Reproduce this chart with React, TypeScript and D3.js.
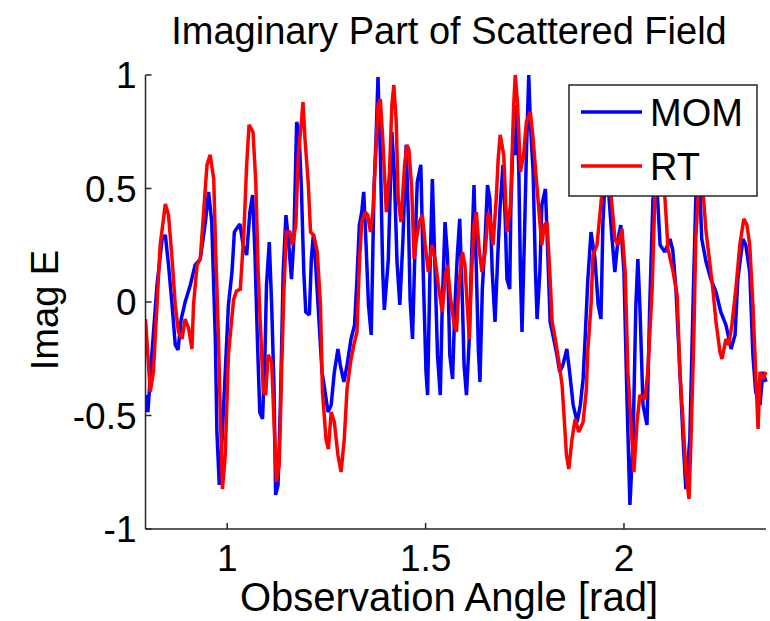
import React from "react";
import * as d3 from "d3";

const xTicks = [1, 1.5, 2];
const yTicks = [-1, -0.5, 0, 0.5, 1];
const xDomain = [0.794, 2.358];
const yDomain = [-1, 1];

const momData: [number, number][] = [
[0.794,-0.410],[0.800,-0.485],[0.809,-0.256],[0.823,0.075],[0.836,0.278],[0.844,0.295],[0.852,0.163],[0.861,-0.013],[0.869,-0.189],[0.876,-0.211],[0.884,-0.075],[0.894,0.0],[0.907,0.075],[0.919,0.163],[0.932,0.189],[0.945,0.352],[0.953,0.485],[0.961,0.352],[0.970,-0.163],[0.974,-0.573],[0.980,-0.806],[0.987,-0.604],[0.995,-0.308],[1.003,-0.013],[1.012,0.132],[1.018,0.308],[1.023,0.322],[1.032,0.344],[1.040,0.251],[1.049,0.207],[1.057,0.396],[1.064,0.471],[1.070,0.207],[1.076,-0.163],[1.082,-0.485],[1.089,-0.515],[1.095,-0.233],[1.099,0.075],[1.106,0.264],[1.112,-0.013],[1.118,-0.383],[1.122,-0.850],[1.128,-0.806],[1.134,-0.454],[1.141,0.132],[1.148,0.383],[1.154,0.278],[1.162,0.101],[1.168,0.278],[1.175,0.793],[1.181,0.749],[1.187,0.498],[1.193,0.132],[1.198,-0.044],[1.207,-0.057],[1.212,0.189],[1.217,0.295],[1.223,0.163],[1.234,-0.163],[1.239,-0.308],[1.244,-0.366],[1.254,-0.485],[1.262,-0.454],[1.270,-0.308],[1.279,-0.207],[1.285,-0.278],[1.294,-0.352],[1.302,-0.278],[1.312,-0.163],[1.321,-0.101],[1.327,0.101],[1.333,0.339],[1.339,0.396],[1.344,0.485],[1.350,0.251],[1.356,-0.013],[1.363,-0.145],[1.370,0.498],[1.375,0.718],[1.380,0.991],[1.386,0.648],[1.392,0.132],[1.396,-0.035],[1.406,0.185],[1.415,0.749],[1.421,0.573],[1.428,0.176],[1.435,-0.013],[1.443,0.278],[1.451,0.692],[1.457,0.352],[1.461,0.009],[1.467,-0.163],[1.474,0.278],[1.479,0.529],[1.488,0.604],[1.494,0.132],[1.501,-0.308],[1.505,-0.410],[1.511,0.132],[1.517,0.542],[1.524,0.132],[1.530,-0.233],[1.537,-0.410],[1.542,-0.013],[1.549,0.352],[1.555,0.207],[1.561,-0.233],[1.568,-0.339],[1.574,-0.013],[1.580,0.207],[1.586,0.366],[1.593,-0.013],[1.597,-0.278],[1.603,-0.410],[1.610,-0.163],[1.616,0.207],[1.622,0.515],[1.628,0.132],[1.633,-0.207],[1.637,-0.352],[1.643,0.057],[1.650,0.278],[1.656,0.515],[1.662,0.454],[1.668,0.132],[1.675,-0.088],[1.682,0.207],[1.688,0.427],[1.695,0.604],[1.701,0.352],[1.705,0.101],[1.712,0.057],[1.715,0.427],[1.720,0.692],[1.726,0.648],[1.730,0.868],[1.735,0.573],[1.739,0.132],[1.743,-0.132],[1.749,0.278],[1.754,0.648],[1.760,1.0],[1.764,0.793],[1.771,0.573],[1.777,0.132],[1.781,-0.075],[1.788,0.132],[1.793,0.427],[1.802,0.498],[1.808,0.207],[1.814,-0.088],[1.823,-0.163],[1.831,-0.233],[1.838,-0.308],[1.846,-0.278],[1.856,-0.207],[1.863,-0.308],[1.872,-0.454],[1.882,-0.529],[1.890,-0.454],[1.897,-0.339],[1.902,-0.163],[1.909,0.101],[1.917,0.308],[1.927,0.189],[1.935,-0.013],[1.942,-0.075],[1.947,0.352],[1.953,0.559],[1.960,0.515],[1.970,0.278],[1.977,0.132],[1.985,0.278],[1.992,0.339],[2.000,0.132],[2.008,-0.454],[2.015,-0.894],[2.023,-0.604],[2.030,-0.013],[2.035,0.189],[2.040,-0.013],[2.048,-0.454],[2.058,-0.542],[2.065,-0.013],[2.073,0.449],[2.081,0.581],[2.091,0.251],[2.103,0.220],[2.116,0.278],[2.123,0.229],[2.131,0.057],[2.141,-0.308],[2.149,-0.604],[2.156,-0.824],[2.166,-0.604],[2.174,-0.013],[2.181,0.454],[2.189,0.604],[2.196,0.278],[2.207,0.176],[2.219,0.101],[2.232,0.044],[2.244,-0.044],[2.257,-0.101],[2.270,-0.207],[2.280,-0.145],[2.287,0.101],[2.300,0.278],[2.307,0.251],[2.317,0.132],[2.325,-0.233],[2.332,-0.396],[2.343,-0.454],[2.350,-0.308],[2.358,-0.352]
];

const rtData: [number, number][] = [
[0.794,-0.075],[0.806,-0.396],[0.814,-0.308],[0.823,-0.013],[0.831,0.251],[0.844,0.432],[0.852,0.383],[0.861,0.189],[0.869,-0.013],[0.877,-0.132],[0.886,-0.163],[0.894,-0.075],[0.903,-0.119],[0.911,-0.207],[0.915,-0.013],[0.924,0.163],[0.932,0.189],[0.940,0.383],[0.949,0.604],[0.957,0.648],[0.966,0.542],[0.970,0.278],[0.978,-0.163],[0.982,-0.454],[0.988,-0.824],[0.995,-0.674],[1.003,-0.233],[1.016,0.009],[1.023,0.048],[1.033,0.057],[1.042,0.308],[1.049,0.604],[1.055,0.780],[1.065,0.749],[1.072,0.529],[1.078,0.132],[1.084,-0.119],[1.091,-0.396],[1.097,-0.410],[1.103,-0.233],[1.112,-0.264],[1.118,-0.529],[1.124,-0.793],[1.131,-0.718],[1.137,-0.308],[1.143,0.057],[1.149,0.308],[1.158,0.308],[1.164,0.251],[1.173,0.339],[1.179,0.648],[1.187,0.793],[1.191,0.881],[1.196,0.718],[1.204,0.529],[1.210,0.308],[1.218,0.295],[1.227,0.220],[1.235,-0.013],[1.240,-0.396],[1.249,-0.604],[1.255,-0.648],[1.262,-0.485],[1.270,-0.529],[1.279,-0.674],[1.287,-0.749],[1.295,-0.604],[1.302,-0.383],[1.311,-0.264],[1.319,-0.189],[1.327,-0.132],[1.333,0.163],[1.339,0.352],[1.348,0.396],[1.354,0.383],[1.361,0.308],[1.367,0.396],[1.373,0.604],[1.380,0.868],[1.386,0.894],[1.392,0.718],[1.401,0.396],[1.409,0.573],[1.415,0.868],[1.420,0.956],[1.426,0.793],[1.431,0.454],[1.438,0.352],[1.447,0.604],[1.453,0.692],[1.458,0.670],[1.465,0.498],[1.471,0.189],[1.477,0.278],[1.484,0.352],[1.492,0.383],[1.499,0.251],[1.507,0.132],[1.516,0.251],[1.524,0.189],[1.532,0.075],[1.542,-0.044],[1.549,0.101],[1.555,0.163],[1.563,0.013],[1.572,-0.101],[1.578,-0.132],[1.584,0.075],[1.593,0.220],[1.599,0.163],[1.605,-0.013],[1.610,-0.163],[1.616,0.132],[1.622,0.339],[1.628,0.396],[1.635,0.233],[1.642,0.132],[1.650,0.220],[1.658,0.396],[1.664,0.352],[1.670,0.251],[1.678,0.454],[1.683,0.630],[1.688,0.736],[1.697,0.648],[1.705,0.308],[1.714,0.427],[1.722,0.868],[1.726,1.0],[1.732,0.868],[1.739,0.573],[1.747,0.648],[1.754,0.793],[1.764,0.837],[1.771,0.718],[1.779,0.542],[1.788,0.352],[1.793,0.251],[1.799,0.339],[1.806,0.352],[1.813,0.132],[1.819,-0.088],[1.827,-0.163],[1.836,-0.264],[1.844,-0.366],[1.850,-0.529],[1.855,-0.674],[1.861,-0.736],[1.869,-0.604],[1.877,-0.515],[1.886,-0.573],[1.897,-0.529],[1.905,-0.388],[1.909,-0.211],[1.917,-0.013],[1.922,0.207],[1.932,0.251],[1.940,0.396],[1.947,0.537],[1.957,0.604],[1.965,0.515],[1.972,0.383],[1.977,0.278],[1.985,0.251],[1.995,0.322],[2.003,0.132],[2.010,-0.308],[2.020,-0.604],[2.025,-0.749],[2.033,-0.529],[2.040,-0.410],[2.053,-0.427],[2.060,-0.308],[2.071,0.057],[2.078,0.471],[2.088,0.670],[2.098,0.604],[2.106,0.383],[2.111,0.233],[2.123,0.141],[2.134,0.031],[2.141,-0.308],[2.149,-0.529],[2.156,-0.749],[2.164,-0.868],[2.169,-0.604],[2.176,-0.163],[2.181,0.278],[2.189,0.537],[2.199,0.493],[2.207,0.308],[2.217,0.163],[2.224,0.057],[2.232,-0.088],[2.242,-0.220],[2.247,-0.251],[2.257,-0.163],[2.264,-0.189],[2.272,-0.101],[2.282,0.057],[2.292,0.251],[2.302,0.366],[2.310,0.339],[2.317,0.251],[2.325,-0.013],[2.332,-0.308],[2.338,-0.559],[2.343,-0.308],[2.350,-0.339],[2.358,-0.308]
];

const seriesNames = ["MOM", "RT"];
const seriesColors = ["#0000ff", "#ff0000"];

const W = 770, H = 621;
const L = 145.5, R = 766, T = 75, B = 529;
const FONT = "'Liberation Sans', Arial, Helvetica, sans-serif";

export default function App() {
  const x = d3.scaleLinear().domain(xDomain).range([L, R]);
  const y = d3.scaleLinear().domain(yDomain).range([B, T]);
  const line = d3.line<[number, number]>().x(d => x(d[0])).y(d => y(d[1]));
  const series = [momData, rtData];
  const fmt = (v: number) => (v === 0 ? "0" : String(v));
  const cx = 449;

  return (
    <svg width={W} height={H} style={{ position: "absolute", left: 0, top: 0, background: "#fff" }}>
      <rect x={0} y={0} width={W} height={H} fill="#fff" />
      <defs>
        <clipPath id="plotclip">
          <rect x={L} y={T - 3} width={R - L + 2} height={B - T + 6} />
        </clipPath>
      </defs>
      <g clipPath="url(#plotclip)">
        {series.map((s, i) => (
          <path key={i} d={line(s) || ""} fill="none" stroke={seriesColors[i]} strokeWidth={3.5} strokeLinejoin="miter" strokeMiterlimit={2} />
        ))}
      </g>
      <line x1={L} y1={T} x2={L} y2={B} stroke="#262626" strokeWidth={1.5} />
      <line x1={L} y1={B} x2={R} y2={B} stroke="#262626" strokeWidth={1.5} />
      {yTicks.map(t => (
        <g key={"y" + t}>
          <line x1={L} x2={L + 6} y1={y(t)} y2={y(t)} stroke="#262626" strokeWidth={1.5} />
          <text x={L - 9} y={y(t)} dy="0.36em" textAnchor="end" fontFamily={FONT} fontSize={37} fill="#000">{fmt(t)}</text>
        </g>
      ))}
      {xTicks.map(t => (
        <g key={"x" + t}>
          <line x1={x(t)} x2={x(t)} y1={B} y2={B - 6} stroke="#262626" strokeWidth={1.5} />
          <text x={x(t)} y={571} textAnchor="middle" fontFamily={FONT} fontSize={37} fill="#000">{fmt(t)}</text>
        </g>
      ))}
      <text x={cx} y={611} textAnchor="middle" fontFamily={FONT} fontSize={40} fill="#000">Observation Angle [rad]</text>
      <text transform={`translate(58, 310) rotate(-90)`} textAnchor="middle" fontFamily={FONT} fontSize={38} fill="#000">Imag E</text>
      <text x={cx} y={44} textAnchor="middle" fontFamily={FONT} fontSize={38} fill="#000">Imaginary Part of Scattered Field</text>
      <rect x={569} y={85} width={188} height={111} fill="#fff" stroke="#262626" strokeWidth={1.5} />
      {seriesNames.map((n, i) => (
        <g key={n}>
          <line x1={581} x2={642} y1={112 + i * 54} y2={112 + i * 54} stroke={seriesColors[i]} strokeWidth={3.5} />
          <text x={650} y={126 + i * 54} fontFamily={FONT} fontSize={38} fill="#000">{n}</text>
        </g>
      ))}
    </svg>
  );
}
